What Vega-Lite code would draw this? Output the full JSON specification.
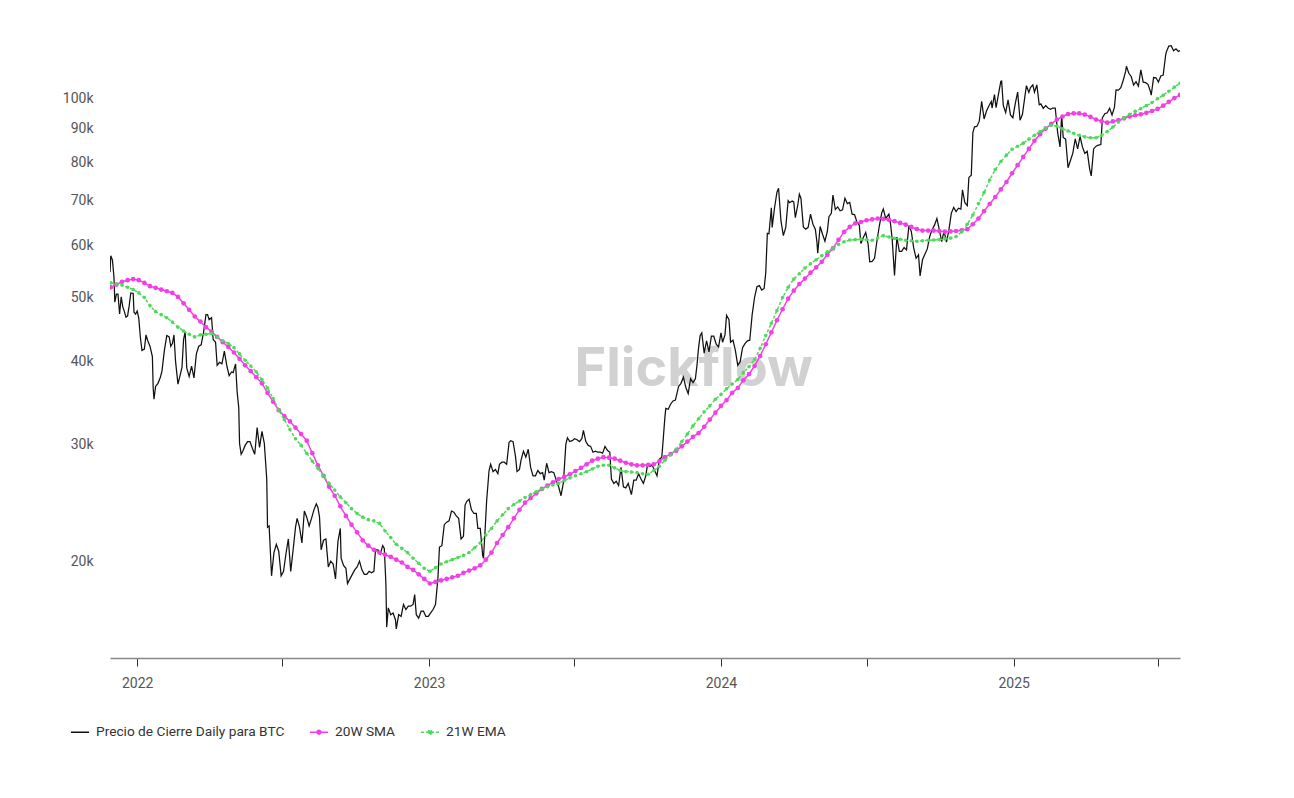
{
"$schema": "https://vega.github.io/schema/vega-lite/v6.json",
"width": 1070, "height": 628,
"autosize": {"type": "none"},
"padding": {"left": 110, "top": 30, "right": 114, "bottom": 140},
"background": "white",
"config": {"view": {"stroke": null}, "font": "Roboto"},
"datasets": {
"price": [
{"d":"2021-11-28","p":54600},{"d":"2021-11-29","p":57800},{"d":"2021-12-01","p":57000},{"d":"2021-12-03","p":53600},{"d":"2021-12-04","p":49200},{"d":"2021-12-06","p":50600},{"d":"2021-12-08","p":50600},{"d":"2021-12-10","p":47200},{"d":"2021-12-12","p":50100},{"d":"2021-12-14","p":48400},{"d":"2021-12-16","p":47600},{"d":"2021-12-18","p":46700},{"d":"2021-12-20","p":46900},{"d":"2021-12-22","p":48600},{"d":"2021-12-24","p":50800},{"d":"2021-12-27","p":50700},{"d":"2021-12-28","p":47500},{"d":"2021-12-30","p":47200},
{"d":"2022-01-01","p":47700},{"d":"2022-01-03","p":46500},{"d":"2022-01-05","p":43500},{"d":"2022-01-07","p":41600},{"d":"2022-01-10","p":41800},{"d":"2022-01-12","p":43900},{"d":"2022-01-14","p":43100},{"d":"2022-01-17","p":42200},{"d":"2022-01-20","p":40700},{"d":"2022-01-21","p":36500},{"d":"2022-01-22","p":35100},{"d":"2022-01-24","p":36700},{"d":"2022-01-27","p":37100},{"d":"2022-01-30","p":37900},
{"d":"2022-02-01","p":38700},{"d":"2022-02-04","p":41600},{"d":"2022-02-07","p":43800},{"d":"2022-02-10","p":43600},{"d":"2022-02-12","p":42200},{"d":"2022-02-14","p":42600},{"d":"2022-02-16","p":43900},{"d":"2022-02-18","p":40000},{"d":"2022-02-21","p":37000},{"d":"2022-02-24","p":38300},{"d":"2022-02-26","p":39200},{"d":"2022-02-28","p":43200},
{"d":"2022-03-02","p":44400},{"d":"2022-03-04","p":39100},{"d":"2022-03-07","p":38000},{"d":"2022-03-10","p":39400},{"d":"2022-03-13","p":37800},{"d":"2022-03-16","p":41100},{"d":"2022-03-19","p":42200},{"d":"2022-03-22","p":42400},{"d":"2022-03-25","p":44300},{"d":"2022-03-28","p":47100},{"d":"2022-03-30","p":47100},
{"d":"2022-04-01","p":46300},{"d":"2022-04-04","p":46600},{"d":"2022-04-06","p":43200},{"d":"2022-04-09","p":42800},{"d":"2022-04-11","p":39500},{"d":"2022-04-14","p":39900},{"d":"2022-04-17","p":39700},{"d":"2022-04-20","p":41500},{"d":"2022-04-23","p":39500},{"d":"2022-04-26","p":38100},{"d":"2022-04-29","p":38600},
{"d":"2022-05-01","p":38500},{"d":"2022-05-04","p":39700},{"d":"2022-05-06","p":36000},{"d":"2022-05-08","p":34100},{"d":"2022-05-09","p":30100},{"d":"2022-05-11","p":29000},{"d":"2022-05-13","p":29300},{"d":"2022-05-16","p":29900},{"d":"2022-05-19","p":30300},{"d":"2022-05-22","p":30300},{"d":"2022-05-25","p":29600},{"d":"2022-05-28","p":29000},{"d":"2022-05-31","p":31800},
{"d":"2022-06-03","p":29700},{"d":"2022-06-06","p":31400},{"d":"2022-06-09","p":30100},{"d":"2022-06-12","p":26600},{"d":"2022-06-13","p":22500},{"d":"2022-06-15","p":22600},{"d":"2022-06-18","p":19000},{"d":"2022-06-21","p":20600},{"d":"2022-06-24","p":21200},{"d":"2022-06-27","p":20700},{"d":"2022-06-30","p":19000},
{"d":"2022-07-03","p":19300},{"d":"2022-07-06","p":20500},{"d":"2022-07-09","p":21600},{"d":"2022-07-12","p":19300},{"d":"2022-07-15","p":20800},{"d":"2022-07-18","p":22500},{"d":"2022-07-20","p":23200},{"d":"2022-07-23","p":22500},{"d":"2022-07-26","p":21300},{"d":"2022-07-29","p":23800},
{"d":"2022-08-01","p":23300},{"d":"2022-08-04","p":22600},{"d":"2022-08-07","p":23200},{"d":"2022-08-10","p":23900},{"d":"2022-08-13","p":24400},{"d":"2022-08-15","p":24100},{"d":"2022-08-17","p":23300},{"d":"2022-08-19","p":20800},{"d":"2022-08-22","p":21500},{"d":"2022-08-25","p":21600},{"d":"2022-08-28","p":19600},{"d":"2022-08-31","p":20000},
{"d":"2022-09-03","p":19800},{"d":"2022-09-06","p":18800},{"d":"2022-09-09","p":21400},{"d":"2022-09-12","p":22400},{"d":"2022-09-13","p":20200},{"d":"2022-09-16","p":19700},{"d":"2022-09-19","p":19500},{"d":"2022-09-21","p":18500},{"d":"2022-09-24","p":18800},{"d":"2022-09-27","p":19100},{"d":"2022-09-30","p":19400},
{"d":"2022-10-03","p":19600},{"d":"2022-10-06","p":20000},{"d":"2022-10-09","p":19400},{"d":"2022-10-12","p":19100},{"d":"2022-10-15","p":19100},{"d":"2022-10-18","p":19300},{"d":"2022-10-21","p":19200},{"d":"2022-10-24","p":19300},{"d":"2022-10-26","p":20800},{"d":"2022-10-29","p":20800},
{"d":"2022-11-01","p":20500},{"d":"2022-11-04","p":21100},{"d":"2022-11-06","p":20900},{"d":"2022-11-08","p":18500},{"d":"2022-11-09","p":15900},{"d":"2022-11-11","p":17000},{"d":"2022-11-14","p":16600},{"d":"2022-11-17","p":16700},{"d":"2022-11-20","p":16300},{"d":"2022-11-21","p":15800},{"d":"2022-11-24","p":16600},{"d":"2022-11-27","p":16500},{"d":"2022-11-30","p":17200},
{"d":"2022-12-03","p":16900},{"d":"2022-12-06","p":17100},{"d":"2022-12-09","p":17100},{"d":"2022-12-12","p":17200},{"d":"2022-12-14","p":17800},{"d":"2022-12-16","p":16600},{"d":"2022-12-19","p":16400},{"d":"2022-12-22","p":16800},{"d":"2022-12-25","p":16800},{"d":"2022-12-28","p":16500},{"d":"2022-12-31","p":16500},
{"d":"2023-01-03","p":16700},{"d":"2023-01-06","p":16900},{"d":"2023-01-09","p":17200},{"d":"2023-01-12","p":18800},{"d":"2023-01-14","p":21000},{"d":"2023-01-17","p":21100},{"d":"2023-01-20","p":22700},{"d":"2023-01-23","p":22900},{"d":"2023-01-26","p":23000},{"d":"2023-01-29","p":23800},
{"d":"2023-02-01","p":23700},{"d":"2023-02-04","p":23400},{"d":"2023-02-07","p":23200},{"d":"2023-02-10","p":21600},{"d":"2023-02-13","p":21800},{"d":"2023-02-15","p":24300},{"d":"2023-02-17","p":24600},{"d":"2023-02-20","p":24800},{"d":"2023-02-23","p":23900},{"d":"2023-02-26","p":23600},
{"d":"2023-03-01","p":23600},{"d":"2023-03-03","p":22400},{"d":"2023-03-06","p":22400},{"d":"2023-03-09","p":20400},{"d":"2023-03-10","p":20200},{"d":"2023-03-12","p":22200},{"d":"2023-03-14","p":24700},{"d":"2023-03-17","p":27400},{"d":"2023-03-19","p":28000},{"d":"2023-03-22","p":27300},{"d":"2023-03-25","p":27500},{"d":"2023-03-28","p":27100},{"d":"2023-03-30","p":28000},
{"d":"2023-04-02","p":28200},{"d":"2023-04-05","p":28200},{"d":"2023-04-08","p":28000},{"d":"2023-04-11","p":30200},{"d":"2023-04-13","p":30400},{"d":"2023-04-16","p":30300},{"d":"2023-04-19","p":28800},{"d":"2023-04-21","p":27300},{"d":"2023-04-24","p":27500},{"d":"2023-04-26","p":28400},{"d":"2023-04-29","p":29300},
{"d":"2023-05-02","p":28700},{"d":"2023-05-05","p":29500},{"d":"2023-05-08","p":27700},{"d":"2023-05-11","p":26900},{"d":"2023-05-14","p":26900},{"d":"2023-05-17","p":27400},{"d":"2023-05-20","p":27100},{"d":"2023-05-23","p":27200},{"d":"2023-05-25","p":26500},{"d":"2023-05-28","p":28100},{"d":"2023-05-31","p":27200},
{"d":"2023-06-03","p":27300},{"d":"2023-06-06","p":27200},{"d":"2023-06-09","p":26500},{"d":"2023-06-12","p":25900},{"d":"2023-06-15","p":25100},{"d":"2023-06-18","p":26300},{"d":"2023-06-21","p":30000},{"d":"2023-06-23","p":30700},{"d":"2023-06-26","p":30300},{"d":"2023-06-29","p":30400},
{"d":"2023-07-02","p":30600},{"d":"2023-07-05","p":30500},{"d":"2023-07-08","p":30300},{"d":"2023-07-11","p":30600},{"d":"2023-07-13","p":31500},{"d":"2023-07-16","p":30300},{"d":"2023-07-19","p":29900},{"d":"2023-07-22","p":29800},{"d":"2023-07-25","p":29200},{"d":"2023-07-28","p":29300},{"d":"2023-07-31","p":29200},
{"d":"2023-08-03","p":29200},{"d":"2023-08-06","p":29100},{"d":"2023-08-09","p":29800},{"d":"2023-08-12","p":29400},{"d":"2023-08-15","p":29200},{"d":"2023-08-17","p":26600},{"d":"2023-08-20","p":26200},{"d":"2023-08-23","p":26400},{"d":"2023-08-26","p":26000},{"d":"2023-08-29","p":27700},
{"d":"2023-09-01","p":25900},{"d":"2023-09-04","p":25800},{"d":"2023-09-07","p":26200},{"d":"2023-09-11","p":25200},{"d":"2023-09-14","p":26500},{"d":"2023-09-17","p":26500},{"d":"2023-09-20","p":27100},{"d":"2023-09-23","p":26600},{"d":"2023-09-26","p":26200},{"d":"2023-09-29","p":26900},
{"d":"2023-10-01","p":27900},{"d":"2023-10-04","p":27800},{"d":"2023-10-07","p":27900},{"d":"2023-10-10","p":27400},{"d":"2023-10-13","p":26900},{"d":"2023-10-16","p":28500},{"d":"2023-10-19","p":28700},{"d":"2023-10-20","p":29700},{"d":"2023-10-23","p":33100},{"d":"2023-10-24","p":34000},{"d":"2023-10-27","p":33900},{"d":"2023-10-30","p":34500},
{"d":"2023-11-02","p":34900},{"d":"2023-11-05","p":35000},{"d":"2023-11-09","p":36700},{"d":"2023-11-12","p":37100},{"d":"2023-11-15","p":37900},{"d":"2023-11-18","p":36600},{"d":"2023-11-21","p":35800},{"d":"2023-11-24","p":37700},{"d":"2023-11-27","p":37200},{"d":"2023-11-30","p":37700},
{"d":"2023-12-02","p":39500},{"d":"2023-12-04","p":42000},{"d":"2023-12-06","p":43800},{"d":"2023-12-08","p":44200},{"d":"2023-12-11","p":41200},{"d":"2023-12-14","p":43000},{"d":"2023-12-17","p":41400},{"d":"2023-12-20","p":43700},{"d":"2023-12-23","p":43700},{"d":"2023-12-26","p":42500},{"d":"2023-12-29","p":42100},
{"d":"2024-01-01","p":44200},{"d":"2024-01-03","p":42800},{"d":"2024-01-06","p":43900},{"d":"2024-01-08","p":47000},{"d":"2024-01-11","p":46300},{"d":"2024-01-13","p":42800},{"d":"2024-01-16","p":43100},{"d":"2024-01-19","p":41600},{"d":"2024-01-22","p":39500},{"d":"2024-01-25","p":40000},{"d":"2024-01-28","p":42000},{"d":"2024-01-31","p":42600},
{"d":"2024-02-03","p":43000},{"d":"2024-02-06","p":43100},{"d":"2024-02-09","p":47100},{"d":"2024-02-12","p":50000},{"d":"2024-02-15","p":51900},{"d":"2024-02-18","p":52100},{"d":"2024-02-21","p":51300},{"d":"2024-02-24","p":51600},{"d":"2024-02-26","p":54500},{"d":"2024-02-28","p":62500},
{"d":"2024-03-01","p":62400},{"d":"2024-03-04","p":68300},{"d":"2024-03-05","p":63800},{"d":"2024-03-08","p":68300},{"d":"2024-03-11","p":72100},{"d":"2024-03-13","p":73100},{"d":"2024-03-16","p":65300},{"d":"2024-03-19","p":62000},{"d":"2024-03-22","p":63800},{"d":"2024-03-25","p":70000},{"d":"2024-03-27","p":69500},{"d":"2024-03-30","p":69900},
{"d":"2024-04-01","p":69700},{"d":"2024-04-03","p":66000},{"d":"2024-04-06","p":68900},{"d":"2024-04-08","p":71600},{"d":"2024-04-10","p":70600},{"d":"2024-04-13","p":63900},{"d":"2024-04-16","p":63400},{"d":"2024-04-19","p":63800},{"d":"2024-04-22","p":66800},{"d":"2024-04-25","p":64500},{"d":"2024-04-28","p":63400},{"d":"2024-04-30","p":60600},
{"d":"2024-05-01","p":58300},{"d":"2024-05-04","p":64000},{"d":"2024-05-07","p":62300},{"d":"2024-05-10","p":60800},{"d":"2024-05-13","p":62900},{"d":"2024-05-15","p":66200},{"d":"2024-05-18","p":67000},{"d":"2024-05-20","p":71400},{"d":"2024-05-23","p":67900},{"d":"2024-05-26","p":68500},{"d":"2024-05-29","p":67600},
{"d":"2024-06-01","p":67800},{"d":"2024-06-04","p":70600},{"d":"2024-06-07","p":69300},{"d":"2024-06-10","p":69600},{"d":"2024-06-13","p":66800},{"d":"2024-06-16","p":66700},{"d":"2024-06-19","p":65000},{"d":"2024-06-22","p":64300},{"d":"2024-06-24","p":60300},{"d":"2024-06-27","p":61600},{"d":"2024-06-30","p":62700},
{"d":"2024-07-03","p":60200},{"d":"2024-07-05","p":56600},{"d":"2024-07-08","p":56700},{"d":"2024-07-11","p":57300},{"d":"2024-07-14","p":60800},{"d":"2024-07-17","p":64100},{"d":"2024-07-20","p":67100},{"d":"2024-07-22","p":68000},{"d":"2024-07-25","p":65800},{"d":"2024-07-29","p":66800},{"d":"2024-07-31","p":64600},
{"d":"2024-08-02","p":61400},{"d":"2024-08-05","p":54000},{"d":"2024-08-08","p":61700},{"d":"2024-08-11","p":58700},{"d":"2024-08-14","p":58700},{"d":"2024-08-17","p":59500},{"d":"2024-08-20","p":59000},{"d":"2024-08-23","p":64200},{"d":"2024-08-26","p":62900},{"d":"2024-08-29","p":59400},
{"d":"2024-09-01","p":57300},{"d":"2024-09-04","p":58000},{"d":"2024-09-06","p":53900},{"d":"2024-09-09","p":57000},{"d":"2024-09-12","p":58100},{"d":"2024-09-15","p":59200},{"d":"2024-09-18","p":61800},{"d":"2024-09-21","p":63300},{"d":"2024-09-24","p":64300},{"d":"2024-09-27","p":65800},{"d":"2024-09-30","p":63300},
{"d":"2024-10-03","p":60700},{"d":"2024-10-06","p":63000},{"d":"2024-10-09","p":60600},{"d":"2024-10-12","p":63200},{"d":"2024-10-15","p":67000},{"d":"2024-10-18","p":68400},{"d":"2024-10-21","p":67400},{"d":"2024-10-24","p":68200},{"d":"2024-10-27","p":68000},{"d":"2024-10-29","p":72700},
{"d":"2024-11-01","p":69500},{"d":"2024-11-04","p":68800},{"d":"2024-11-06","p":75900},{"d":"2024-11-09","p":76500},{"d":"2024-11-11","p":88700},{"d":"2024-11-13","p":90500},{"d":"2024-11-16","p":90600},{"d":"2024-11-19","p":92300},{"d":"2024-11-22","p":98900},{"d":"2024-11-25","p":93000},{"d":"2024-11-28","p":95600},
{"d":"2024-12-01","p":97300},{"d":"2024-12-04","p":98800},{"d":"2024-12-05","p":96600},{"d":"2024-12-08","p":101200},{"d":"2024-12-10","p":96700},{"d":"2024-12-13","p":101400},{"d":"2024-12-16","p":106000},{"d":"2024-12-17","p":106100},{"d":"2024-12-19","p":97500},{"d":"2024-12-22","p":95100},{"d":"2024-12-25","p":99400},{"d":"2024-12-28","p":94300},{"d":"2024-12-31","p":93400},
{"d":"2025-01-03","p":98100},{"d":"2025-01-06","p":102100},{"d":"2025-01-09","p":92600},{"d":"2025-01-12","p":94500},{"d":"2025-01-15","p":100500},{"d":"2025-01-17","p":104400},{"d":"2025-01-20","p":102000},{"d":"2025-01-22","p":103700},{"d":"2025-01-25","p":104700},{"d":"2025-01-27","p":102100},{"d":"2025-01-30","p":104700},
{"d":"2025-02-02","p":97700},{"d":"2025-02-04","p":98000},{"d":"2025-02-07","p":96500},{"d":"2025-02-10","p":97400},{"d":"2025-02-13","p":96600},{"d":"2025-02-16","p":96200},{"d":"2025-02-19","p":96600},{"d":"2025-02-22","p":96600},{"d":"2025-02-25","p":88700},{"d":"2025-02-28","p":84400},
{"d":"2025-03-02","p":94200},{"d":"2025-03-04","p":87200},{"d":"2025-03-07","p":86700},{"d":"2025-03-10","p":78500},{"d":"2025-03-13","p":80500},{"d":"2025-03-16","p":82600},{"d":"2025-03-19","p":86800},{"d":"2025-03-22","p":83800},{"d":"2025-03-25","p":87500},{"d":"2025-03-28","p":84400},{"d":"2025-03-31","p":82500},
{"d":"2025-04-03","p":83100},{"d":"2025-04-06","p":78200},{"d":"2025-04-08","p":76300},{"d":"2025-04-11","p":83800},{"d":"2025-04-14","p":84600},{"d":"2025-04-17","p":84900},{"d":"2025-04-20","p":85100},{"d":"2025-04-22","p":93400},{"d":"2025-04-25","p":94700},{"d":"2025-04-28","p":95000},
{"d":"2025-05-01","p":96500},{"d":"2025-05-04","p":94300},{"d":"2025-05-07","p":96800},{"d":"2025-05-09","p":102900},{"d":"2025-05-12","p":102800},{"d":"2025-05-15","p":103700},{"d":"2025-05-18","p":106400},{"d":"2025-05-21","p":109700},{"d":"2025-05-22","p":111700},{"d":"2025-05-25","p":109000},{"d":"2025-05-28","p":107800},{"d":"2025-05-31","p":104600},
{"d":"2025-06-03","p":105900},{"d":"2025-06-06","p":104300},{"d":"2025-06-09","p":110300},{"d":"2025-06-12","p":105700},{"d":"2025-06-15","p":105500},{"d":"2025-06-18","p":104900},{"d":"2025-06-21","p":102300},{"d":"2025-06-22","p":101000},{"d":"2025-06-25","p":107400},{"d":"2025-06-28","p":107300},
{"d":"2025-07-01","p":105700},{"d":"2025-07-04","p":108000},{"d":"2025-07-07","p":108300},{"d":"2025-07-10","p":116000},{"d":"2025-07-11","p":117500},{"d":"2025-07-14","p":119800},{"d":"2025-07-17","p":120000},{"d":"2025-07-20","p":117900},{"d":"2025-07-23","p":118700},{"d":"2025-07-26","p":117600},{"d":"2025-07-28","p":118000}
],
"ma": [
{"d":"2021-11-29","s":51800,"e":52600},{"d":"2021-12-06","s":52300,"e":52400},{"d":"2021-12-13","s":52800,"e":52200},{"d":"2021-12-20","s":53100,"e":51800},{"d":"2021-12-27","s":53300,"e":51400},
{"d":"2022-01-03","s":53100,"e":50800},{"d":"2022-01-10","s":52600,"e":50000},{"d":"2022-01-17","s":52000,"e":48600},{"d":"2022-01-24","s":51700,"e":47600},{"d":"2022-01-31","s":51400,"e":47100},
{"d":"2022-02-07","s":51100,"e":46600},{"d":"2022-02-14","s":50800,"e":45900},{"d":"2022-02-21","s":50100,"e":45100},{"d":"2022-02-28","s":49000,"e":44500},
{"d":"2022-03-07","s":47900,"e":44000},{"d":"2022-03-14","s":46800,"e":43600},{"d":"2022-03-21","s":46000,"e":43900},{"d":"2022-03-28","s":45100,"e":44000},
{"d":"2022-04-04","s":44400,"e":44100},{"d":"2022-04-11","s":43600,"e":43600},{"d":"2022-04-18","s":42800,"e":43000},{"d":"2022-04-25","s":42100,"e":42600},
{"d":"2022-05-02","s":41300,"e":42000},{"d":"2022-05-09","s":40400,"e":41100},{"d":"2022-05-16","s":39500,"e":40200},{"d":"2022-05-23","s":38700,"e":39400},{"d":"2022-05-30","s":37900,"e":38600},
{"d":"2022-06-06","s":37100,"e":37600},{"d":"2022-06-13","s":35900,"e":36500},{"d":"2022-06-20","s":34800,"e":35200},{"d":"2022-06-27","s":33800,"e":33800},
{"d":"2022-07-04","s":33100,"e":32700},{"d":"2022-07-11","s":32500,"e":31600},{"d":"2022-07-18","s":31800,"e":30600},{"d":"2022-07-25","s":31100,"e":29900},
{"d":"2022-08-01","s":30400,"e":29100},{"d":"2022-08-08","s":29100,"e":28300},{"d":"2022-08-15","s":27900,"e":27600},{"d":"2022-08-22","s":26900,"e":26900},{"d":"2022-08-29","s":25900,"e":26200},
{"d":"2022-09-05","s":25100,"e":25600},{"d":"2022-09-12","s":24200,"e":25000},{"d":"2022-09-19","s":23400,"e":24500},{"d":"2022-09-26","s":22700,"e":24000},
{"d":"2022-10-03","s":22100,"e":23600},{"d":"2022-10-10","s":21500,"e":23300},{"d":"2022-10-17","s":21100,"e":23100},{"d":"2022-10-24","s":20800,"e":23000},{"d":"2022-10-31","s":20600,"e":22800},
{"d":"2022-11-07","s":20450,"e":22200},{"d":"2022-11-14","s":20300,"e":21700},{"d":"2022-11-21","s":20100,"e":21200},{"d":"2022-11-28","s":19900,"e":20900},
{"d":"2022-12-05","s":19600,"e":20600},{"d":"2022-12-12","s":19400,"e":20200},{"d":"2022-12-19","s":19100,"e":19850},{"d":"2022-12-26","s":18800,"e":19500},
{"d":"2023-01-02","s":18500,"e":19300},{"d":"2023-01-09","s":18600,"e":19550},{"d":"2023-01-16","s":18700,"e":19800},{"d":"2023-01-23","s":18800,"e":19950},{"d":"2023-01-30","s":18900,"e":20100},
{"d":"2023-02-06","s":19000,"e":20250},{"d":"2023-02-13","s":19200,"e":20400},{"d":"2023-02-20","s":19350,"e":20600},{"d":"2023-02-27","s":19500,"e":20950},
{"d":"2023-03-06","s":19700,"e":21300},{"d":"2023-03-13","s":20100,"e":21900},{"d":"2023-03-20","s":20600,"e":22400},{"d":"2023-03-27","s":21300,"e":23000},
{"d":"2023-04-03","s":21900,"e":23500},{"d":"2023-04-10","s":22500,"e":24000},{"d":"2023-04-17","s":23200,"e":24350},{"d":"2023-04-24","s":23900,"e":24650},
{"d":"2023-05-01","s":24500,"e":24950},{"d":"2023-05-08","s":24900,"e":25200},{"d":"2023-05-15","s":25300,"e":25450},{"d":"2023-05-22","s":25700,"e":25700},{"d":"2023-05-29","s":26000,"e":25900},
{"d":"2023-06-05","s":26300,"e":26050},{"d":"2023-06-12","s":26600,"e":26200},{"d":"2023-06-19","s":26800,"e":26450},{"d":"2023-06-26","s":27050,"e":26700},
{"d":"2023-07-03","s":27350,"e":26900},{"d":"2023-07-10","s":27650,"e":27100},{"d":"2023-07-17","s":28000,"e":27300},{"d":"2023-07-24","s":28350,"e":27550},{"d":"2023-07-31","s":28550,"e":27800},
{"d":"2023-08-07","s":28700,"e":27900},{"d":"2023-08-14","s":28650,"e":27900},{"d":"2023-08-21","s":28550,"e":27650},{"d":"2023-08-28","s":28350,"e":27400},
{"d":"2023-09-04","s":28150,"e":27300},{"d":"2023-09-11","s":28000,"e":27250},{"d":"2023-09-18","s":27900,"e":27200},{"d":"2023-09-25","s":27900,"e":27100},
{"d":"2023-10-02","s":27950,"e":27050},{"d":"2023-10-09","s":28000,"e":27400},{"d":"2023-10-16","s":28300,"e":27800},{"d":"2023-10-23","s":28700,"e":28400},{"d":"2023-10-30","s":29000,"e":28950},
{"d":"2023-11-06","s":29350,"e":29500},{"d":"2023-11-13","s":29800,"e":30300},{"d":"2023-11-20","s":30300,"e":31100},{"d":"2023-11-27","s":30800,"e":32000},
{"d":"2023-12-04","s":31200,"e":32800},{"d":"2023-12-11","s":31900,"e":33600},{"d":"2023-12-18","s":32700,"e":34300},{"d":"2023-12-25","s":33500,"e":35100},
{"d":"2024-01-01","s":34300,"e":35700},{"d":"2024-01-08","s":35000,"e":36400},{"d":"2024-01-15","s":35900,"e":37000},{"d":"2024-01-22","s":36500,"e":37600},{"d":"2024-01-29","s":37500,"e":38500},
{"d":"2024-02-05","s":38300,"e":39300},{"d":"2024-02-12","s":39400,"e":40300},{"d":"2024-02-19","s":40800,"e":41900},{"d":"2024-02-26","s":42500,"e":43800},
{"d":"2024-03-04","s":44300,"e":45700},{"d":"2024-03-11","s":46200,"e":47800},{"d":"2024-03-18","s":48000,"e":50000},{"d":"2024-03-25","s":49800,"e":51800},
{"d":"2024-04-01","s":51200,"e":53300},{"d":"2024-04-08","s":52400,"e":54300},{"d":"2024-04-15","s":53400,"e":55400},{"d":"2024-04-22","s":54500,"e":56200},{"d":"2024-04-29","s":55500,"e":57000},
{"d":"2024-05-06","s":56600,"e":57800},{"d":"2024-05-13","s":58000,"e":58600},{"d":"2024-05-20","s":59300,"e":59300},{"d":"2024-05-27","s":61100,"e":60100},
{"d":"2024-06-03","s":62800,"e":60700},{"d":"2024-06-10","s":63900,"e":61050},{"d":"2024-06-17","s":64700,"e":61150},{"d":"2024-06-24","s":65000,"e":61200},
{"d":"2024-07-01","s":65400,"e":61100},{"d":"2024-07-08","s":65600,"e":61000},{"d":"2024-07-15","s":65800,"e":61500},{"d":"2024-07-22","s":65700,"e":62000},{"d":"2024-07-29","s":65500,"e":61700},
{"d":"2024-08-05","s":65200,"e":61400},{"d":"2024-08-12","s":64800,"e":61200},{"d":"2024-08-19","s":64400,"e":61000},{"d":"2024-08-26","s":63900,"e":60900},
{"d":"2024-09-02","s":63400,"e":60800},{"d":"2024-09-09","s":63100,"e":60900},{"d":"2024-09-16","s":63100,"e":61000},{"d":"2024-09-23","s":63100,"e":61050},{"d":"2024-09-30","s":63000,"e":61150},
{"d":"2024-10-07","s":62850,"e":61300},{"d":"2024-10-14","s":62900,"e":61450},{"d":"2024-10-21","s":63000,"e":61800},{"d":"2024-10-28","s":63150,"e":62800},
{"d":"2024-11-04","s":63400,"e":64500},{"d":"2024-11-11","s":64500,"e":66600},{"d":"2024-11-18","s":65800,"e":69300},{"d":"2024-11-25","s":67500,"e":72000},
{"d":"2024-12-02","s":69200,"e":75200},{"d":"2024-12-09","s":70900,"e":78000},{"d":"2024-12-16","s":72800,"e":80200},{"d":"2024-12-23","s":74700,"e":82000},{"d":"2024-12-30","s":77000,"e":83700},
{"d":"2025-01-06","s":79200,"e":84600},{"d":"2025-01-13","s":81500,"e":85500},{"d":"2025-01-20","s":83800,"e":86700},{"d":"2025-01-27","s":86200,"e":87900},
{"d":"2025-02-03","s":88200,"e":89000},{"d":"2025-02-10","s":89900,"e":90100},{"d":"2025-02-17","s":91400,"e":91000},{"d":"2025-02-24","s":92800,"e":90700},
{"d":"2025-03-03","s":93800,"e":89900},{"d":"2025-03-10","s":94600,"e":89200},{"d":"2025-03-17","s":94850,"e":88500},{"d":"2025-03-24","s":94800,"e":87900},{"d":"2025-03-31","s":94400,"e":87400},
{"d":"2025-04-07","s":93700,"e":87100},{"d":"2025-04-14","s":92800,"e":87100},{"d":"2025-04-21","s":92300,"e":87900},{"d":"2025-04-28","s":91800,"e":89000},
{"d":"2025-05-05","s":92200,"e":90400},{"d":"2025-05-12","s":92600,"e":92000},{"d":"2025-05-19","s":93200,"e":93300},{"d":"2025-05-26","s":93800,"e":94500},
{"d":"2025-06-02","s":94200,"e":95500},{"d":"2025-06-09","s":94500,"e":96400},{"d":"2025-06-16","s":95000,"e":97400},{"d":"2025-06-23","s":95600,"e":98500},{"d":"2025-06-30","s":96300,"e":99800},
{"d":"2025-07-07","s":97400,"e":101000},{"d":"2025-07-14","s":98700,"e":102400},{"d":"2025-07-21","s":100000,"e":103900},{"d":"2025-07-28","s":101100,"e":105300}
]
},
"layer": [
  {"data": {"values": [{"label": "Flickflow"}]},
   "mark": {"type": "text", "fontSize": 54, "fontWeight": "bold", "font": "Inter", "fill": "#cdcdcd", "opacity": 0.9, "align": "center", "baseline": "middle"},
   "encoding": {"x": {"datum": {"year": 2023, "month": 11, "date": 28}, "type": "temporal"},
     "y": {"datum": 38900, "type": "quantitative"},
     "text": {"field": "label", "type": "nominal"}}},
  {"data": {"name": "price"},
   "mark": {"type": "line", "strokeWidth": 1.25, "clip": true},
   "encoding": {
     "x": {"field": "d", "type": "temporal",
       "scale": {"type": "utc", "domain": ["2021-11-28", "2025-07-28"]},
       "axis": {"title": null, "grid": false,
         "values": [{"year":2022,"month":1,"date":1,"utc":true},{"year":2022,"month":7,"date":1,"utc":true},{"year":2023,"month":1,"date":1,"utc":true},{"year":2023,"month":7,"date":1,"utc":true},{"year":2024,"month":1,"date":1,"utc":true},{"year":2024,"month":7,"date":1,"utc":true},{"year":2025,"month":1,"date":1,"utc":true},{"year":2025,"month":7,"date":1,"utc":true}],
         "labelExpr": "utcmonth(datum.value) == 0 ? utcFormat(datum.value, '%Y') : ''",
         "domainColor": "#888888", "domainWidth": 1.5, "tickColor": "#333333", "tickSize": 8, "tickWidth": 1,
         "labelColor": "#555555", "labelFontSize": 14, "labelPadding": 10, "labelFont": "Roboto", "labelFlush": false}},
     "y": {"field": "p", "type": "quantitative",
       "scale": {"type": "log", "domain": [14280, 126700], "nice": false},
       "axis": {"title": null, "values": [20000,30000,40000,50000,60000,70000,80000,90000,100000],
         "format": "~s", "domain": false, "ticks": false, "labelPadding": 17,
         "gridColor": "#e6e6e6", "gridWidth": 1, "labelColor": "#555555", "labelFontSize": 14, "labelFont": "Roboto"}},
     "color": {"datum": "Precio de Cierre Daily para BTC", "type": "nominal",
       "scale": {"domain": ["Precio de Cierre Daily para BTC", "20W SMA", "21W EMA"], "range": ["#111111", "#f23fe6", "#4fd95a"]},
       "legend": {"orient": "none", "legendX": -40, "legendY": 692, "direction": "horizontal", "title": null,
         "padding": 0, "symbolType": "stroke", "symbolSize": 324, "symbolStrokeWidth": 1.5,
         "labelFontSize": 13.7, "labelColor": "#333333", "labelFont": "Roboto", "labelOffset": 6, "labelLimit": 0, "columnPadding": 22,
         "encode": {"symbols": {"update": {
           "shape": {"signal": "datum.value === 'Precio de Cierre Daily para BTC' ? 'stroke' : 'M-1,0H1M0.22,0A0.22,0.22,0,1,1,-0.22,0A0.22,0.22,0,1,1,0.22,0Z'"},
           "strokeDash": {"signal": "datum.value === '21W EMA' ? [3,2] : [1,0]"},
           "fill": {"signal": "datum.value === 'Precio de Cierre Daily para BTC' ? 'transparent' : scale('color', datum.value)"},
           "fillOpacity": {"value": 1}
         }}}}}
   }},
  {"data": {"name": "ma"},
   "mark": {"type": "line", "strokeWidth": 1.5, "clip": true, "point": {"filled": true, "size": 22}},
   "encoding": {"x": {"field": "d", "type": "temporal"}, "y": {"field": "s", "type": "quantitative"},
     "color": {"datum": "20W SMA", "type": "nominal"}}},
  {"data": {"name": "ma"},
   "mark": {"type": "line", "strokeWidth": 1.5, "strokeDash": [3, 2], "clip": true, "point": {"filled": true, "size": 13}},
   "encoding": {"x": {"field": "d", "type": "temporal"}, "y": {"field": "e", "type": "quantitative"},
     "color": {"datum": "21W EMA", "type": "nominal"}}}
]
}
